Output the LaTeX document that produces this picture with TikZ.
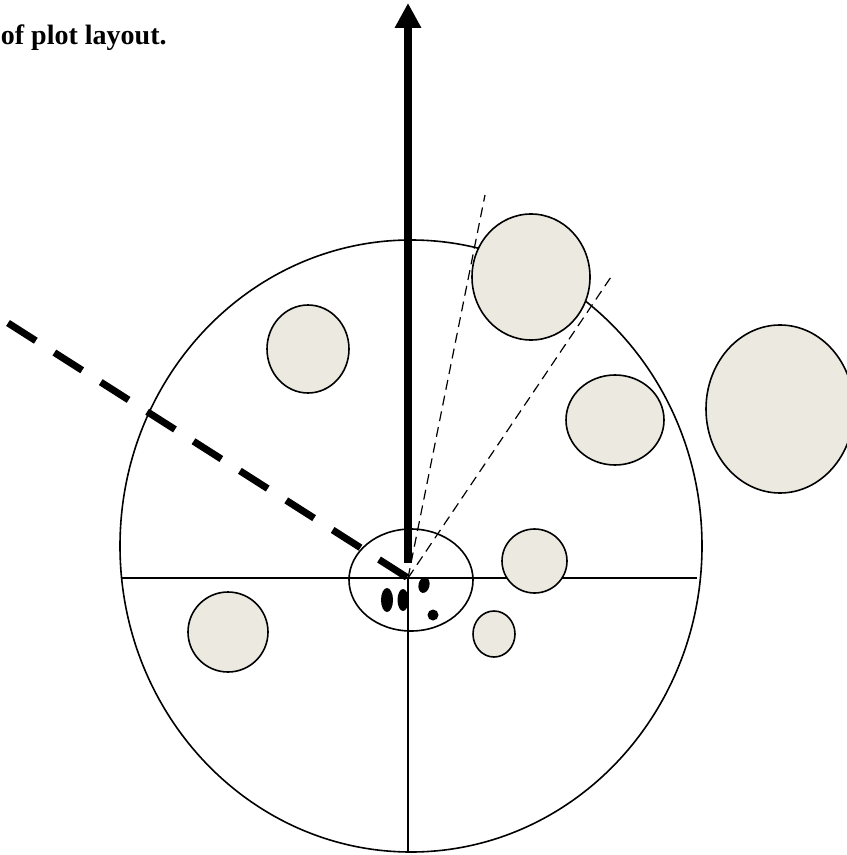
\documentclass[tikz,border=0pt]{standalone}
\usepackage{fontspec}
\setmainfont{Liberation Serif}
\usetikzlibrary{shapes.geometric,arrows.meta}
\definecolor{beige}{RGB}{236,234,224}
\begin{document}
\begin{tikzpicture}[x=0.5pt,y=-0.5pt,
  thinline/.style={line width=0.8pt},
  outline/.style={ellipse, draw, line width=0.8pt, inner sep=0pt, outer sep=0pt},
  tree/.style={outline, fill=beige},
  blob/.style={ellipse, fill=black, inner sep=0pt, outer sep=0pt},
  sightline/.style={line width=0.6pt, dash pattern=on 5pt off 3pt},
  boundary/.style={line width=3.5pt, dash pattern=on 16.5pt off 11pt},
  north/.style={line width=4pt, -{Triangle[width=12.5pt,length=12.5pt]}}]
\useasboundingbox (0,0) rectangle (846,855);

% title fragment
\node[anchor=base east, inner sep=0pt, font=\bfseries\fontsize{14}{16}\selectfont] (title) at (167,45) {of plot layout.};

% plot circle
\node[outline, minimum width=291pt, minimum height=306pt] (plot) at (411,546) {};

% cross lines
\coordinate (O) at (408,578);
\coordinate (W) at (122,578);
\coordinate (E) at (697,578);
\coordinate (S) at (408,852);
\draw[thinline] (W) -- (E);
\draw[thinline] (O) -- (S);

% centre ellipse and marks
\node[outline, minimum width=62pt, minimum height=51pt] (centre) at (411,580) {};
\node[blob, minimum width=6pt, minimum height=12pt] (m1) at (387,600) {};
\node[blob, minimum width=5.5pt, minimum height=11pt] (m2) at (403,600) {};
\node[blob, minimum width=5.5pt, minimum height=8pt, rotate=-12] (m3) at (424,585) {};
\node[blob, minimum width=5.5pt, minimum height=5.5pt] (m4) at (433,615) {};

% sight lines
\coordinate (s1) at (485,195);
\coordinate (s2) at (613,274);
\draw[sightline] (O) -- (s1);
\draw[sightline] (O) -- (s2);

% thick dashed boundary
\coordinate (b0) at (8,323);
\draw[boundary] (b0) -- (O);

% north arrow
\coordinate (a0) at (408,563);
\coordinate (a1) at (408,3);
\draw[north] (a0) -- (a1);

% trees
\node[tree, minimum width=41pt, minimum height=44pt] (t1) at (308,349) {};
\node[tree, minimum width=59pt, minimum height=63pt] (t2) at (531,277) {};
\node[tree, minimum width=49pt, minimum height=45pt] (t3) at (615,420) {};
\node[tree, minimum width=74pt, minimum height=84pt] (t4) at (780,409) {};
\node[tree, minimum width=32.5pt, minimum height=32pt] (t5) at (534.5,561) {};
\node[tree, minimum width=21pt, minimum height=23pt] (t6) at (494,634) {};
\node[tree, minimum width=40pt, minimum height=40pt] (t7) at (228,632) {};
\end{tikzpicture}
\end{document}
